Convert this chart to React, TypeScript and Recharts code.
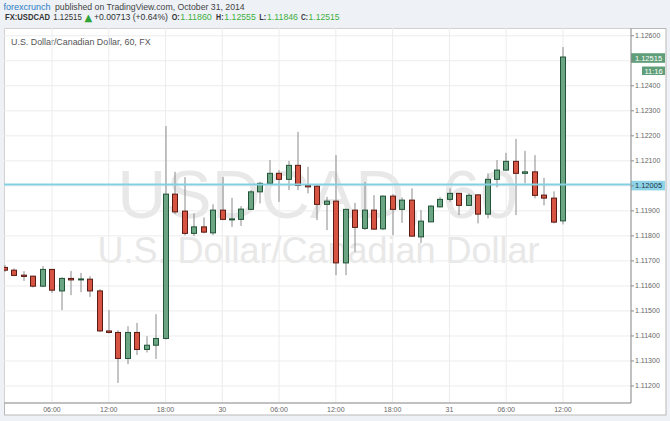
import { ComposedChart, Bar, XAxis, YAxis, CartesianGrid, ReferenceLine } from 'recharts';

// hourly bars, hour 0 = Oct 29 00:00
const hours = [1, 2, 3, 4, 5, 6, 7, 8, 9, 10, 11, 12, 13, 14, 15, 16, 17, 18, 19, 20,
  21, 22, 23, 24, 25, 26, 27, 28, 29, 30, 31, 32, 33, 34, 35, 36, 37, 38, 39, 40,
  41, 42, 43, 44, 45, 46, 47, 48, 49, 50, 51, 52, 53, 54, 55, 56, 57, 58, 59, 60];
const opens = [1.11674, 1.11663, 1.11643, 1.11639, 1.11599, 1.11666, 1.1158, 1.1163, 1.11624, 1.11627,
  1.1158, 1.1142, 1.11414, 1.1131, 1.11414, 1.11346, 1.11363, 1.1139, 1.11967, 1.11899,
  1.1181, 1.11836, 1.11812, 1.11903, 1.11864, 1.11866, 1.11906, 1.11976, 1.1201, 1.1205,
  1.12026, 1.12082, 1.12002, 1.11999, 1.11926, 1.11939, 1.11692, 1.11903, 1.1183, 1.11903,
  1.11828, 1.11959, 1.11906, 1.11943, 1.11796, 1.11856, 1.11916, 1.11946, 1.1197, 1.11922,
  1.11964, 1.11887, 1.12026, 1.12063, 1.12098, 1.1205, 1.12056, 1.11963, 1.11951, 1.1186];
const highs = [1.11683, 1.1167, 1.11659, 1.11641, 1.11679, 1.11668, 1.11635, 1.1166, 1.11652, 1.11639,
  1.11587, 1.11503, 1.11423, 1.11439, 1.11452, 1.11399, 1.11487, 1.12239, 1.12056, 1.12035,
  1.1189, 1.11874, 1.11926, 1.12035, 1.11952, 1.11919, 1.11983, 1.12016, 1.12103, 1.12063,
  1.121, 1.12216, 1.12076, 1.12007, 1.11956, 1.12123, 1.11908, 1.11932, 1.12016, 1.11963,
  1.11962, 1.11967, 1.11954, 1.1199, 1.11903, 1.11923, 1.11956, 1.1199, 1.11972, 1.1197,
  1.11966, 1.1205, 1.12103, 1.12132, 1.12188, 1.1214, 1.12123, 1.12032, 1.11978, 1.12555];
const lows = [1.11656, 1.11639, 1.1162, 1.11594, 1.11595, 1.11572, 1.11503, 1.11563, 1.11575, 1.11556,
  1.11416, 1.1141, 1.11212, 1.11287, 1.11324, 1.11334, 1.11308, 1.11386, 1.11887, 1.11802,
  1.11799, 1.1181, 1.11803, 1.11863, 1.11836, 1.1184, 1.11903, 1.1193, 1.12004, 1.11936,
  1.11983, 1.11983, 1.1197, 1.11863, 1.11823, 1.11643, 1.11643, 1.11736, 1.11823, 1.11825,
  1.11823, 1.11803, 1.11852, 1.11796, 1.11772, 1.11855, 1.11914, 1.11936, 1.11883, 1.11919,
  1.1185, 1.1187, 1.11994, 1.1206, 1.11883, 1.1201, 1.1195, 1.11922, 1.1185, 1.11846];
const closes = [1.11663, 1.11642, 1.11638, 1.11599, 1.11666, 1.11583, 1.1163, 1.11624, 1.11628, 1.1158,
  1.1142, 1.11414, 1.1131, 1.11414, 1.11346, 1.11363, 1.1139, 1.11967, 1.11896, 1.1181,
  1.11836, 1.11815, 1.11903, 1.11866, 1.11868, 1.11907, 1.11976, 1.1201, 1.1205, 1.12026,
  1.12082, 1.12002, 1.11996, 1.11926, 1.11939, 1.11692, 1.11906, 1.11834, 1.11903, 1.11827,
  1.11959, 1.11906, 1.11943, 1.11799, 1.11859, 1.11919, 1.11946, 1.1197, 1.11922, 1.11962,
  1.11887, 1.12026, 1.12063, 1.12098, 1.1205, 1.12056, 1.11962, 1.11951, 1.11855, 1.12515];

const timeTicks = [6, 12, 18, 24, 30, 36, 42, 48, 54, 60];
const timeLabels = ['06:00', '12:00', '18:00', '30', '06:00', '12:00', '18:00', '31', '06:00', '12:00'];
const priceTicks = [1.112, 1.113, 1.114, 1.115, 1.116, 1.117, 1.118, 1.119, 1.12, 1.121, 1.122, 1.123, 1.124, 1.125, 1.126];
// these two tick labels sit under the price tags
const hiddenTicks = [1.12, 1.125];
const hLine = 1.12005;
const lastPrice = 1.12515;
const countdown = '11:16';

const candles = hours.map((h, i) => ({ h, open: opens[i], high: highs[i], low: lows[i], close: closes[i] }));

const FONT = '"Liberation Sans", Arial, sans-serif';
const UP = '#6ba583', UP_EDGE = '#225437';
const DOWN = '#d75442', DOWN_EDGE = '#5b1a13';

const Candle = (props: any) => {
  let { x, y, width, height, payload } = props;
  if (height < 0) { y += height; height = -height; }
  const { open, close, high, low } = payload;
  const ratio = height / (high - low);
  const yOf = (v: number) => y + (high - v) * ratio;
  const top = yOf(Math.max(open, close));
  const bot = yOf(Math.min(open, close));
  const up = close >= open;
  const left = Math.round(x);
  const cx = left + 3;
  return (
    <g>
      <line x1={cx} x2={cx} y1={y} y2={y + height} stroke="#8a8a8c" strokeWidth={1} />
      <rect x={left + 0.5} y={top} width={5} height={Math.max(bot - top, 1)}
        fill={up ? UP : DOWN} stroke={up ? UP_EDGE : DOWN_EDGE} strokeWidth={1} />
    </g>
  );
};

const tag = (text: string, bg: string, fg: string, sub?: string) => (p: any) => {
  const vb = p.viewBox;
  const x0 = vb.x + vb.width;
  const yc = vb.y + 1;
  return (
    <g>
      <rect x={x0} y={yc - 4.8} width={34} height={9.6} fill={bg} />
      <text x={x0 + 17.5} y={yc} dy="0.36em" textAnchor="middle" fontSize={7.5} fontFamily={FONT} fill={fg}>{text}</text>
      {sub && <rect x={x0 + 11} y={yc + 8.5} width={23} height={8.5} fill={bg} />}
      {sub && <text x={x0 + 22.5} y={yc + 12.8} dy="0.36em" textAnchor="middle" fontSize={7.5} fontFamily={FONT} fill={fg}>{sub}</text>}
    </g>
  );
};

export default function App() {
  return (
    <div style={{ position: 'absolute', left: 0, top: 0, width: 670, height: 421, background: '#eef2f6' }}>
      <svg width={670} height={421} style={{ position: 'absolute', left: 0, top: 0 }}>
        <text x={3.5} y={10} fontSize={9} fontFamily={FONT} fill="#2b7bc4">forexcrunch</text>
        <text x={55} y={10} fontSize={8.7} fontFamily={FONT} fill="#444">published on TradingView.com, October 31, 2014</text>
        <g fontSize={8.3} fontFamily={FONT}>
          <text x={5} y={20.4} fontWeight="bold" fill="#333" textLength={45} lengthAdjust="spacingAndGlyphs">FX:USDCAD</text>
          <text x={53.3} y={20.4} fill="#333" textLength={28.5} lengthAdjust="spacingAndGlyphs">1.12515</text>
          <text x={84.5} y={21} fill="#2fa336" fontSize={10} fontFamily="DejaVu Sans">▲</text>
          <text x={94} y={20.4} fill="#333" textLength={74} lengthAdjust="spacingAndGlyphs">+0.00713 (+0.64%)</text>
          <text x={171.7} y={20.4} fontWeight="bold" fill="#333" textLength={8} lengthAdjust="spacingAndGlyphs">O:</text>
          <text x={180.3} y={20.4} fill="#3fae3f" textLength={31.5} lengthAdjust="spacingAndGlyphs">1.11860</text>
          <text x={216} y={20.4} fontWeight="bold" fill="#333" textLength={7.5} lengthAdjust="spacingAndGlyphs">H:</text>
          <text x={224.3} y={20.4} fill="#3fae3f" textLength={31.5} lengthAdjust="spacingAndGlyphs">1.12555</text>
          <text x={259.3} y={20.4} fontWeight="bold" fill="#333" textLength={7} lengthAdjust="spacingAndGlyphs">L:</text>
          <text x={267} y={20.4} fill="#3fae3f" textLength={31} lengthAdjust="spacingAndGlyphs">1.11846</text>
          <text x={301} y={20.4} fontWeight="bold" fill="#333" textLength={7} lengthAdjust="spacingAndGlyphs">C:</text>
          <text x={308.5} y={20.4} fill="#3fae3f" textLength={31} lengthAdjust="spacingAndGlyphs">1.12515</text>
        </g>
        <rect x={4.5} y={28.5} width={661.5} height={386.5} fill="#fff" stroke="#b8b8b8" />
        <text x={317.5} y={218} textAnchor="middle" fontSize={68} fontFamily={FONT} fill="#e8e8e8">USDCAD, 60</text>
        <text x={318.5} y={263} textAnchor="middle" fontSize={36} fontFamily={FONT} fill="#e8e8e8">U.S. Dollar/Canadian Dollar</text>
        <text x={11} y={44.8} fontSize={8.9} fontFamily={FONT} fill="#555">U.S. Dollar/Canadian Dollar, 60, FX</text>
      </svg>
      <div style={{ position: 'absolute', left: 0, top: 0 }}>
        <ComposedChart width={670} height={421} data={candles} margin={{ top: 28, right: 4, bottom: 6, left: 4 }}>
          <CartesianGrid stroke="#ececec" />
          <XAxis type="number" dataKey="h" domain={[0.93, 67.19]} allowDataOverflow ticks={timeTicks} interval={0}
            tickFormatter={(v: number) => timeLabels[timeTicks.indexOf(v)]} height={12} tickSize={2} tickMargin={2}
            tickLine={false} axisLine={{ stroke: '#8c8c8c' }} tick={{ fontSize: 7, fill: '#666', fontFamily: FONT }} />
          <YAxis orientation="right" domain={[1.11132, 1.12631]} allowDataOverflow ticks={priceTicks} interval={0}
            width={35} tickSize={3} tickMargin={1}
            tickFormatter={(v: number) => (hiddenTicks.some((t) => Math.abs(t - v) < 1e-7) ? '' : v.toFixed(5))}
            axisLine={{ stroke: '#8c8c8c' }} tickLine={{ stroke: '#8c8c8c' }} tick={{ fontSize: 7, fill: '#666', fontFamily: FONT }} />
          <ReferenceLine y={hLine} stroke="#84d0e3" strokeWidth={2} label={tag('1.12005', '#8ed4e8', '#234', undefined)} />
          <Bar dataKey={(d: any) => [d.low, d.high]} barSize={6} shape={Candle} isAnimationActive={false} />
          <ReferenceLine y={lastPrice} stroke="none" strokeOpacity={0} label={tag('1.12515', '#5f9e78', '#fff', countdown)} />
        </ComposedChart>
      </div>
    </div>
  );
}
